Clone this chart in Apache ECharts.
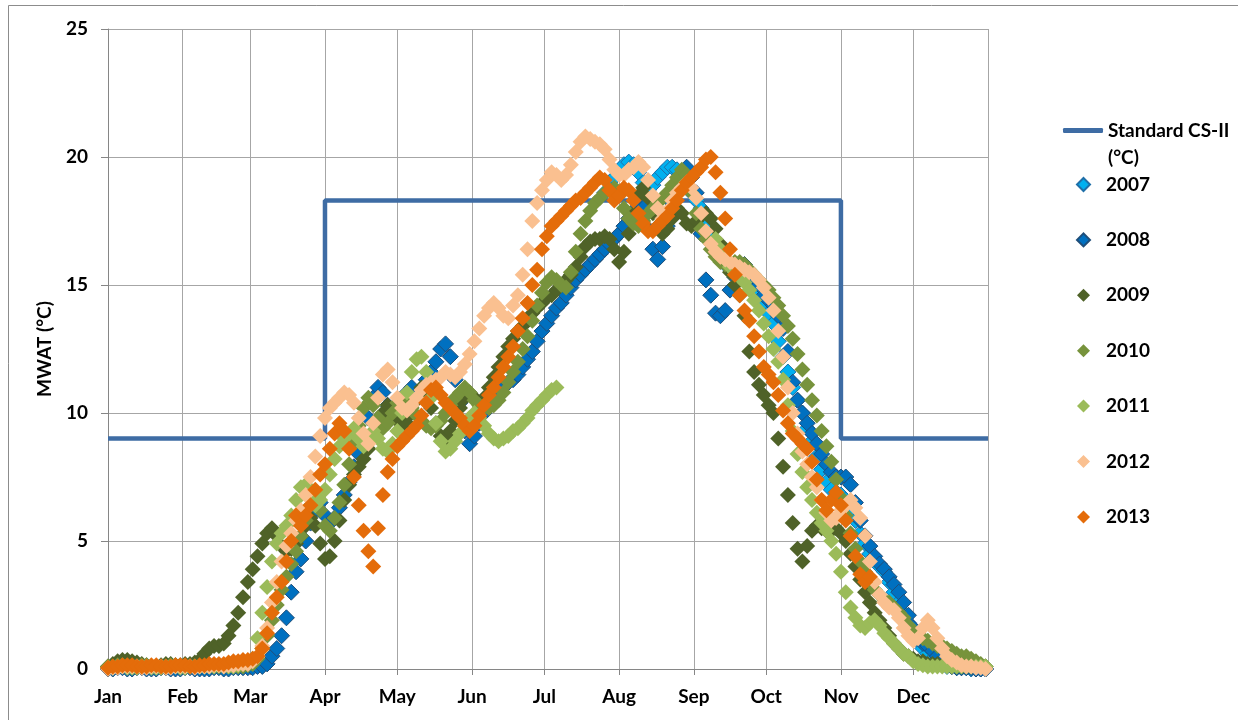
<!DOCTYPE html>
<html>
<head>
<meta charset="utf-8">
<script src="https://cdn.jsdelivr.net/npm/echarts@6/dist/echarts.min.js"></script>
<style>
html, body { margin: 0; padding: 0; background: #fff; }
#chart { width: 1238px; height: 720px; }
</style>
</head>
<body>
<div id="chart"></div>
<script>
// x = day of year, one reading every 2 days (day 0, 2, ... 364)
var monthNames = ['Jan', 'Feb', 'Mar', 'Apr', 'May', 'Jun', 'Jul', 'Aug', 'Sep', 'Oct', 'Nov', 'Dec'];
var monthStarts = [0, 31, 59, 90, 120, 151, 181, 212, 243, 273, 304, 334];
var dayStep = 2;

var stdName = 'Standard CS-II (°C)';
var stdDays = [0, 90, 90, 304, 304, 365];
var stdValues = [9, 9, 18.3, 18.3, 9, 9];

var years = ['2007', '2008', '2009', '2010', '2011', '2012', '2013'];

var mwat2007 = [
    null, null, null, null, null, null, null, null, null, null,
    null, null, null, null, null, null, null, null, null, null,
    null, null, null, null, null, null, null, null, null, null,
    null, null, null, null, null, null, null, null, null, null,
    null, null, null, null, null, null, null, null, null, null,
    null, null, null, null, null, null, null, null, null, null,
    null, null, null, null, null, null, null, null, null, null,
    null, null, null, null, null, null, null, null, null, null,
    null, null, null, null, null, null, null, null, null, null,
    null, null, null, null, null, null, null, null, null, null,
    null, null, null, 18.6, 19.0, 19.2, 19.5, 19.7, 19.8, 19.7,
    19.4, 19.0, 18.7, 18.9, 19.2, 19.4, 19.6, 19.6, 19.5, 19.2,
    18.9, 18.6, 18.3, 18.0, 17.3, 16.8, 16.4, 16.0, 15.8, 15.7,
    15.6, 15.5, 15.4, 15.2, 15.0, 14.6, 14.3, 13.9, 13.5, 12.8,
    12.2, 11.6, 11.0, 10.5, 10.0, 9.4, 8.9, 8.3, 7.8, 7.3,
    7.0, 6.9, 6.8, 6.6, 6.2, 5.8, 5.3, 4.9, 4.5, 4.2,
    4.0, 3.8, 3.4, 3.0, 2.6, 2.2, 1.8, 1.4, 1.1, 0.8,
    0.6, 0.4, 0.3, 0.2, 0.1, 0.1, 0.05, 0.05, 0.05, 0.0,
    0.0, 0.0, 0.0
];

var mwat2008 = [
    0.0, 0.0, 0.05, 0.05, 0.0, 0.0, 0.05, 0.05, 0.0, 0.0,
    0.0, 0.05, 0.05, 0.0, 0.0, 0.0, 0.05, 0.05, 0.0, 0.0,
    0.0, 0.0, 0.05, 0.05, 0.0, 0.0, 0.05, 0.05, 0.05, 0.05,
    0.05, 0.1, 0.1, 0.2, 0.5, 0.8, 1.3, 2.0, 3.0, 3.8,
    4.3, 5.0, 5.7, 6.2, 6.5, 6.0, 5.7, 5.9, 6.3, 6.8,
    7.3, 7.9, 8.4, 9.0, 9.8, 10.6, 11.0, 10.8, 10.3, 10.0,
    10.2, 10.5, 10.8, 11.0, 10.7, 10.9, 11.3, 11.6, 12.0, 12.5,
    12.7, 12.2, 11.3, 10.4, 9.3, 8.8, 9.1, 9.6, 10.0, 10.4,
    10.6, 10.8, 11.0, 11.2, 11.3, 11.5, 11.8, 12.1, 12.4, 12.8,
    13.2, 13.5, 13.8, 14.1, 14.3, 14.6, 14.9, 15.2, 15.4, 15.6,
    15.8, 16.0, 16.2, 16.4, 16.6, 16.8, 17.0, 17.3, 17.6, 17.9,
    18.3, 18.0, 17.2, 16.4, 16.0, 16.5, 17.3, 18.2, 18.9, 19.3,
    19.6, 19.2, 18.6, 17.0, 15.2, 14.6, 13.9, 13.8, 14.0, 14.8,
    15.3, 15.6, 15.8, 15.5, 15.2, 15.0, 14.6, 14.4, 14.2, 13.8,
    13.3, 12.4, 11.2, 10.5, 10.0, 9.6, 9.2, 8.8, 8.4, 8.0,
    7.7, 7.5, 7.5, 7.5, 7.2, 6.5, 5.8, 5.2, 4.8, 4.4,
    4.1, 3.9, 3.6, 3.3, 3.0, 2.6, 2.1, 1.6, 1.3, 1.0,
    0.9, 0.7, 0.5, 0.3, 0.2, 0.1, 0.05, 0.05, 0.05, 0.05,
    0.0, 0.0, 0.0
];

var mwat2009 = [
    0.1, 0.2, 0.3, 0.35, 0.35, 0.3, 0.25, 0.2, 0.15, 0.1,
    0.1, 0.15, 0.2, 0.2, 0.15, 0.15, 0.2, 0.2, 0.25, 0.35,
    0.6, 0.8, 0.9, 0.9, 1.0, 1.3, 1.7, 2.2, 2.8, 3.4,
    3.9, 4.4, 4.9, 5.3, 5.5, 5.2, 4.8, 4.6, 4.7, 4.9,
    5.2, 5.6, 5.9, 5.6, 4.9, 4.3, 4.4, 5.0, 5.8, 6.6,
    7.2, 7.6, 7.9, 8.2, 8.6, 9.1, 9.6, 10.0, 10.3, 10.1,
    9.7, 9.4, 9.6, 10.0, 10.5, 11.0, 10.8, 10.2, 9.6, 9.1,
    9.0, 9.3, 9.7, 10.2, 10.6, 10.8, 10.6, 10.4, 10.6, 11.0,
    11.4, 11.8, 12.2, 12.6, 12.9, 13.2, 13.4, 13.6, 13.9, 14.1,
    14.3, 14.5, 14.6, 14.8, 15.0, 15.2, 15.4, 15.7, 16.1, 16.5,
    16.7, 16.8, 16.8, 16.9, 16.8, 16.4, 15.9, 16.3, 17.0, 17.8,
    18.5, 18.8, 18.4, 17.8, 17.3, 17.0, 17.2, 17.6, 18.0, 17.8,
    17.4, 17.3, 17.5, 17.7, 17.8, 17.6, 17.2, 16.6, 16.0, 15.5,
    15.0, 14.6, 13.8, 12.4, 11.6, 11.1, 10.7, 10.3, 10.0, 9.0,
    7.9, 6.8, 5.7, 4.7, 4.2, 4.8, 5.4, 5.6, 5.5, 5.4,
    5.4, 5.5, 5.3, 5.0, 4.5, 4.0, 3.5, 3.0, 2.6, 2.2,
    1.9, 1.6, 1.3, 1.0, 0.8, 0.6, 0.5, 0.4, 0.3, 0.3,
    0.2, 0.2, 0.2, 0.15, 0.15, 0.1, 0.1, 0.1, 0.1, 0.1,
    0.1, 0.1, 0.1
];

var mwat2010 = [
    0.1, 0.1, 0.15, 0.15, 0.1, 0.1, 0.1, 0.15, 0.15, 0.1,
    0.1, 0.1, 0.1, 0.15, 0.15, 0.1, 0.1, 0.1, 0.1, 0.1,
    0.1, 0.1, 0.1, 0.1, 0.1, 0.1, 0.1, 0.1, 0.1, 0.15,
    0.2, 0.4, 0.8, 1.3, 1.9, 2.5, 3.1, 3.6, 4.1, 4.6,
    5.2, 5.8, 6.4, 6.6, 6.2, 5.6, 5.4, 5.9, 6.5, 7.2,
    8.0, 8.8, 9.5, 10.2, 10.6, 10.3, 9.8, 9.4, 9.6, 10.0,
    10.4, 10.6, 10.5, 10.2, 9.9, 9.7, 9.5, 9.4, 9.5, 9.7,
    10.0, 10.3, 10.6, 10.8, 11.0, 10.8, 10.5, 10.3, 10.2, 10.2,
    10.3, 10.5, 10.8, 11.2, 11.6, 12.0, 12.5, 13.0, 13.6, 14.2,
    14.7, 15.1, 15.3, 15.2, 15.0, 14.9, 15.5, 16.3, 17.0, 17.5,
    17.9, 18.2, 18.4, 18.6, 18.7, 18.8, 18.5, 18.0, 17.6, 17.4,
    17.3, 17.5, 17.8, 18.0, 18.2, 18.4, 18.6, 18.9, 19.2, 19.5,
    19.3, 18.6, 17.8, 17.2, 16.8, 16.4, 16.1, 15.9, 15.8, 15.8,
    15.9, 15.9, 15.8, 15.6, 15.4, 15.2, 15.0, 14.8, 14.5, 14.2,
    13.8, 13.4, 12.9, 12.3, 11.7, 11.1, 10.5, 9.9, 9.3, 8.7,
    8.1, 7.4, 6.7, 6.0, 5.3, 4.7, 4.2, 3.8, 3.4, 3.1,
    2.9, 2.7, 2.6, 2.4, 2.2, 2.0, 1.7, 1.5, 1.3, 1.2,
    1.1, 1.0, 0.9, 0.9, 0.8, 0.7, 0.6, 0.5, 0.5, 0.4,
    0.3, 0.2, 0.1
];

var mwat2011 = [
    0.05, 0.05, 0.1, 0.1, 0.05, 0.05, 0.05, 0.1, 0.1, 0.05,
    0.05, 0.05, 0.1, 0.1, 0.1, 0.05, 0.05, 0.1, 0.1, 0.1,
    0.1, 0.1, 0.1, 0.15, 0.15, 0.1, 0.1, 0.15, 0.2, 0.25,
    0.4, 1.2, 2.2, 3.2, 4.2, 4.9, 5.3, 5.6, 6.0, 6.6,
    7.1, 7.2, 6.7, 6.4, 6.6, 7.0, 7.6, 8.2, 8.7, 9.0,
    9.2, 9.4, 9.0, 8.7, 9.0, 9.3, 9.0, 8.6, 8.5, 8.8,
    9.3, 10.0, 10.8, 11.6, 12.1, 12.2, 11.6, 10.6, 9.6, 8.9,
    8.5, 8.6, 8.9, 9.2, 9.5, 9.8, 10.0, 9.8, 9.5, 9.2,
    9.0, 8.9, 9.0, 9.1, 9.3, 9.4, 9.6, 9.8, 10.1, 10.3,
    10.5, 10.7, 10.9, 11.0, null, null, null, null, null, null,
    null, null, null, null, null, null, null, null, null, null,
    null, null, null, null, null, null, null, null, null, null,
    null, null, null, null, null, null, 16.8, 16.4, 16.0, 15.7,
    15.5, 15.3, 15.1, 14.8, 14.4, 14.0, 13.5, 13.0, 12.5, 12.0,
    11.3, 10.3, 9.3, 8.4, 7.7, 7.1, 6.6, 6.1, 5.7, 5.4,
    5.0, 4.5, 3.8, 3.0, 2.4, 2.0, 1.7, 1.6, 1.8, 1.9,
    1.7, 1.4, 1.2, 1.0, 0.8, 0.6, 0.5, 0.3, 0.2, 0.15,
    0.1, 0.1, 0.1, 0.1, 0.1, 0.1, 0.1, 0.1, 0.1, 0.1,
    0.1, 0.1, 0.1
];

var mwat2012 = [
    0.0, 0.05, 0.05, 0.1, 0.1, 0.1, 0.1, 0.05, 0.05, 0.1,
    0.1, 0.1, 0.05, 0.05, 0.1, 0.1, 0.1, 0.1, 0.05, 0.1,
    0.1, 0.1, 0.15, 0.15, 0.1, 0.15, 0.15, 0.2, 0.2, 0.2,
    0.3, 0.5, 0.9, 1.6, 2.6, 3.4, 4.2, 4.8, 5.3, 5.8,
    6.2, 6.8, 7.5, 8.3, 9.1, 9.8, 10.2, 10.4, 10.6, 10.8,
    10.7, 10.4, 9.8, 9.2, 8.8, 9.6, 10.6, 11.5, 11.7, 11.2,
    10.6, 10.2, 10.1, 10.3, 10.6, 10.9, 11.1, 11.2, 11.3, 11.4,
    11.6, 11.5, 11.4, 11.6, 11.9, 12.3, 12.8, 13.3, 13.8, 14.1,
    14.3, 14.1, 13.8, 13.7, 14.2, 14.6, 15.4, 16.4, 17.5, 18.2,
    18.7, 19.1, 19.4, 19.3, 19.1, 19.3, 19.7, 20.2, 20.6, 20.8,
    20.7, 20.6, 20.5, 20.3, 19.9, 19.5, 19.3, 19.3, 19.5, 19.6,
    19.8, 19.6, 19.1, 18.5, 18.0, 17.6, 17.9, 18.3, 18.6, 18.8,
    19.0, 18.8, 18.4, 17.8, 17.1, 16.6, 16.3, 16.1, 16.0, 15.9,
    15.8, 15.7, 15.6, 15.5, 15.4, 15.2, 14.9, 14.5, 14.0, 13.2,
    12.2, 11.0, 10.0, 9.2, 8.5, 8.0, 7.5, 7.1, 6.6, 6.1,
    5.8, 5.9, 6.2, 6.4, 6.6, 6.3, 5.9, 5.2, 4.2, 3.4,
    2.9, 2.6, 2.4, 2.3, 2.0, 1.6, 1.3, 1.1, 1.2, 1.6,
    1.9, 1.6, 1.2, 0.8, 0.5, 0.35, 0.25, 0.15, 0.1, 0.1,
    0.05, 0.05, 0.0
];

var mwat2013 = [
    0.05, 0.1, 0.1, 0.15, 0.15, 0.15, 0.1, 0.1, 0.1, 0.15,
    0.15, 0.1, 0.1, 0.1, 0.15, 0.15, 0.15, 0.1, 0.1, 0.15,
    0.15, 0.2, 0.2, 0.2, 0.2, 0.25, 0.3, 0.3, 0.35, 0.35,
    0.4, 0.5, 0.8, 1.4, 2.2, 2.8, 3.4, 4.2, 5.0, 6.0,
    5.6, 6.0, 6.4, 7.0, 7.6, 8.0, 8.6, 9.2, 9.6, 9.3,
    8.6, 7.5, 6.4, 5.4, 4.6, 4.0, 5.5, 6.8, 7.7, 8.2,
    8.7, 8.9, 9.1, 9.3, 9.5, 9.9, 10.4, 10.9, 11.0, 10.7,
    10.4, 10.2, 10.0, 9.8, 9.5, 9.3, 9.5, 9.9, 10.3, 10.7,
    11.0, 11.4, 11.8, 12.2, 12.6, 13.2, 13.7, 14.3, 15.0, 15.6,
    16.4, 16.9, 17.3, 17.5, 17.7, 17.9, 18.1, 18.3, 18.4, 18.6,
    18.8, 19.0, 19.2, 19.1, 18.7, 18.3, 18.5, 18.8, 18.7, 18.3,
    17.8, 17.4, 17.1, 17.1, 17.3, 17.5, 17.7, 18.0, 18.3, 18.7,
    19.0, 19.2, 19.4, 19.6, 19.9, 20.0, 19.4, 18.6, 17.6, 16.4,
    15.4, 14.6, 14.0, 13.6, 13.0, 12.4, 11.8, 11.5, 11.2, 10.7,
    10.1, 9.6, 9.2, 9.0, 8.8, 8.6, 8.1, 7.4, 6.6, 6.2,
    6.6, 6.9, 6.4, 5.8, 5.2, 4.4, 3.7, 3.4, 3.6, null,
    null, null, null, null, null, null, null, null, null, null,
    null, null, null, null, null, null, null, null, null, null,
    null, null, null
];

var yearValues = [mwat2007, mwat2008, mwat2009, mwat2010, mwat2011, mwat2012, mwat2013];
var yearColors = ['#00B0F0', '#0070C0', '#4F6228', '#77933C', '#9BBB59', '#FAC090', '#E46C0A'];
var yearBorders = ['#1F6FA8', '#1F4E79', null, null, null, null, null];

var fontFamily = 'Lato, "Open Sans", sans-serif';
var axisColor = '#868686';
var gridColor = '#A6A6A6';
var stdColor = '#3E6CA4';

function toPoints(values) {
    var out = [];
    for (var i = 0; i < values.length; i++) {
        if (values[i] !== null) {
            out.push([i * dayStep, values[i]]);
        }
    }
    return out;
}

var stdPoints = stdDays.map(function (d, i) { return [d, stdValues[i]]; });

var series = [{
    name: stdName,
    type: 'line',
    data: stdPoints,
    symbol: 'none',
    lineStyle: { color: stdColor, width: 4.5 },
    itemStyle: { color: stdColor },
    z: 1
}];

years.forEach(function (year, i) {
    var itemStyle = { color: yearColors[i], opacity: 1 };
    if (yearBorders[i]) {
        itemStyle.borderColor = yearBorders[i];
        itemStyle.borderWidth = 1;
    }
    series.push({
        name: year,
        type: 'scatter',
        symbol: 'diamond',
        symbolSize: 16,
        data: toPoints(yearValues[i]),
        itemStyle: itemStyle,
        z: 2
    });
});

var chart = echarts.init(document.getElementById('chart'));

chart.setOption({
    animation: false,
    backgroundColor: '#fff',
    textStyle: { fontFamily: fontFamily },
    graphic: [{
        type: 'rect',
        shape: { x: 8.5, y: 5.5, width: 1240, height: 730 },
        style: { fill: 'none', stroke: '#8C8C8C', lineWidth: 1 },
        silent: true
    }],
    grid: { left: 108, right: 250, top: 29, bottom: 51 },
    legend: [{
        data: [{ name: stdName, icon: 'roundRect', itemStyle: { color: stdColor } }],
        orient: 'vertical',
        left: 1063,
        top: 90,
        padding: 0,
        itemWidth: 40,
        itemHeight: 5,
        formatter: function () { return '\nStandard CS-II\n(°C)'; },
        textStyle: {
            fontFamily: fontFamily, fontSize: 19, fontWeight: 'bold', color: '#000',
            lineHeight: 27
        }
    }, {
        data: years,
        orient: 'vertical',
        left: 1076,
        top: 175,
        padding: 0,
        itemWidth: 13,
        itemHeight: 13,
        itemGap: 36.4,
        textStyle: {
            fontFamily: fontFamily, fontSize: 19, fontWeight: 'bold', color: '#000',
            lineHeight: 13, padding: [0, 0, 0, 11]
        }
    }],
    xAxis: {
        type: 'value',
        min: 0,
        max: 365,
        axisLine: { show: true, onZero: false, lineStyle: { color: axisColor } },
        axisTick: {
            show: true, length: 6, inside: false,
            customValues: monthStarts.concat([365]),
            lineStyle: { color: axisColor }
        },
        axisLabel: {
            customValues: monthStarts,
            margin: 18,
            color: '#000',
            fontFamily: fontFamily,
            fontSize: 19,
            fontWeight: 'bold',
            formatter: function (v) {
                var k = monthStarts.indexOf(v);
                return k >= 0 ? monthNames[k] : '';
            }
        },
        splitLine: { show: true, lineStyle: { color: gridColor, width: 1 } }
    },
    yAxis: {
        type: 'value',
        min: 0,
        max: 25,
        interval: 5,
        name: 'MWAT (°C)',
        nameLocation: 'middle',
        nameGap: 54,
        nameTextStyle: { color: '#000', fontFamily: fontFamily, fontSize: 19, fontWeight: 'bold' },
        axisLine: { show: true, lineStyle: { color: axisColor } },
        axisTick: { show: true, length: 7, lineStyle: { color: axisColor } },
        axisLabel: { margin: 20, color: '#000', fontFamily: fontFamily, fontSize: 19, fontWeight: 'bold' },
        splitLine: { show: true, lineStyle: { color: gridColor, width: 1 } }
    },
    series: series
});
</script>
</body>
</html>
